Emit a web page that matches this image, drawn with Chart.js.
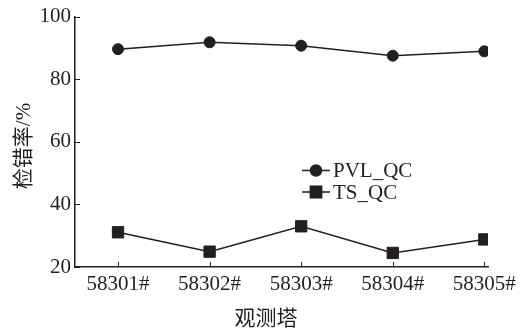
<!DOCTYPE html>
<html>
<head>
<meta charset="utf-8">
<script src="https://cdn.jsdelivr.net/npm/chart.js@4.4.1/dist/chart.umd.min.js"></script>
<style>
  html, body { margin: 0; padding: 0; background: #fff; }
  #wrap { width: 522px; height: 333px; }
</style>
</head>
<body>
<div id="wrap"><canvas id="qcChart"></canvas></div>
<script>
// ====== DATA ======
const towers = ['58301#', '58302#', '58303#', '58304#', '58305#'];
const pvlQc = [89.6, 91.8, 90.7, 87.5, 88.9];
const tsQc = [31.1, 24.9, 33.0, 24.5, 28.8];
const yTicks = [20, 40, 60, 80, 100];
const xTitle = '观测塔';
const yTitle = '检错率/%';

const INK = '#231f20';
const FONT = '"Liberation Serif", "Noto Sans CJK SC", serif';

const toPoints = arr => arr.map((v, i) => ({ x: i + 1, y: v }));

// inward tick marks, axis titles, in-plot legend
const decorations = {
  id: 'decorations',
  afterDraw(chart) {
    const { ctx, scales: { x, y }, chartArea } = chart;
    ctx.save();
    ctx.strokeStyle = INK;
    ctx.lineWidth = 1;
    ctx.beginPath();
    y.ticks.forEach(t => {
      const py = Math.round(y.getPixelForValue(t.value)) + 0.5;
      ctx.moveTo(chartArea.left, py);
      ctx.lineTo(chartArea.left + 5, py);
    });
    x.ticks.forEach(t => {
      const px = Math.round(x.getPixelForValue(t.value)) + 0.5;
      ctx.moveTo(px, chartArea.bottom);
      ctx.lineTo(px, chartArea.bottom - 5);
    });
    ctx.stroke();

    // axis titles
    ctx.fillStyle = INK;
    ctx.font = '21px ' + FONT;
    ctx.textAlign = 'center';
    ctx.textBaseline = 'middle';
    ctx.fillText(xTitle, 266, 319);
    ctx.save();
    ctx.translate(24, 146);
    ctx.rotate(-Math.PI / 2);
    ctx.fillText(yTitle, 0, 0);
    ctx.restore();

    // legend
    const lx = 302, ly = 170.5, gap = 21.5;
    chart.data.datasets.forEach((ds, i) => {
      const cy = ly + i * gap;
      ctx.strokeStyle = INK;
      ctx.lineWidth = 1.5;
      ctx.beginPath();
      ctx.moveTo(lx, cy);
      ctx.lineTo(lx + 28, cy);
      ctx.stroke();
      ctx.fillStyle = INK;
      Chart.helpers.drawPoint(ctx, {
        pointStyle: ds.pointStyle, radius: ds.pointRadius, borderWidth: 1
      }, lx + 14, cy);
      ctx.font = '21px ' + FONT;
      ctx.textBaseline = 'middle';
      ctx.textAlign = 'left';
      ctx.fillText(ds.label, lx + 31, cy + 1);
    });
    ctx.restore();
  }
};

new Chart(document.getElementById('qcChart'), {
  type: 'line',
  data: {
    datasets: [
      {
        label: 'PVL_QC',
        data: toPoints(pvlQc),
        borderColor: INK,
        backgroundColor: INK,
        borderWidth: 1.5,
        pointStyle: 'circle',
        pointRadius: 5.5,
        pointBorderWidth: 1,
        tension: 0
      },
      {
        label: 'TS_QC',
        data: toPoints(tsQc),
        borderColor: INK,
        backgroundColor: INK,
        borderWidth: 1.5,
        pointStyle: 'rect',
        pointRadius: 8,
        pointBorderWidth: 1,
        tension: 0
      }
    ]
  },
  options: {
    responsive: true,
    maintainAspectRatio: false,
    animation: false,
    layout: { padding: { top: 14, right: 34, left: 0, bottom: 0 } },
    plugins: { legend: { display: false }, tooltip: { enabled: false } },
    scales: {
      x: {
        type: 'linear',
        min: 0.53,
        max: 5.04,
        afterBuildTicks: s => { s.ticks = towers.map((c, i) => ({ value: i + 1 })); },
        afterFit: s => { s.height = 66; },
        grid: { display: false, drawTicks: false },
        border: { display: true, color: INK, width: 1.5 },
        ticks: {
          callback: v => towers[v - 1],
          font: { size: 21, family: FONT },
          color: INK,
          padding: 5,
          maxRotation: 0,
          autoSkip: false
        }
      },
      y: {
        min: 20,
        max: 100,
        afterBuildTicks: s => { s.ticks = yTicks.map(v => ({ value: v })); },
        afterFit: s => { s.width = 75; },
        grid: { display: false, drawTicks: false },
        border: { display: true, color: INK, width: 1.5 },
        ticks: {
          font: { size: 21, family: FONT },
          color: INK,
          padding: 4
        }
      }
    }
  },
  plugins: [decorations]
});
</script>
</body>
</html>
